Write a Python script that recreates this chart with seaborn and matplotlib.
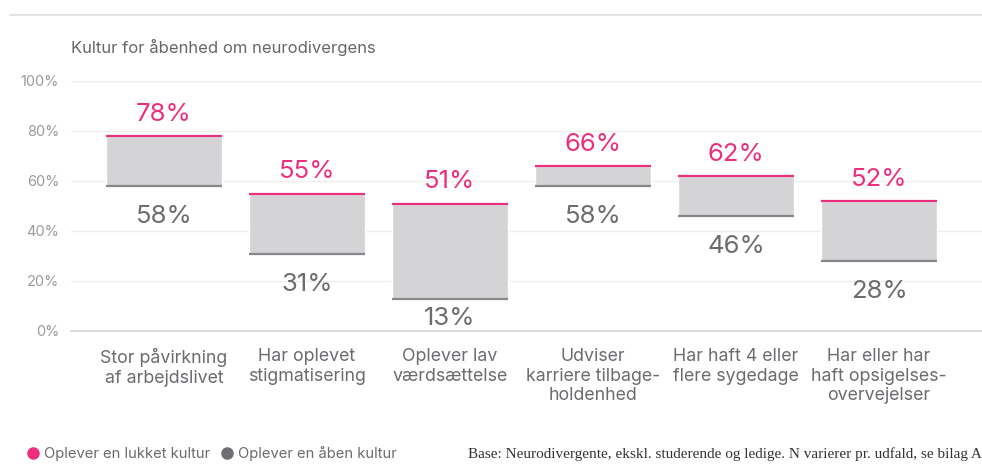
import matplotlib
matplotlib.use("Agg")
import matplotlib.pyplot as plt
from matplotlib.lines import Line2D
import seaborn as sns
import pandas as pd

# data
categories = ["Stor påvirkning\naf arbejdslivet", "Har oplevet\nstigmatisering",
              "Oplever lav\nværdsættelse", "Udviser\nkarriere tilbage-\nholdenhed",
              "Har haft 4 eller\nflere sygedage", "Har eller har\nhaft opsigelses-\novervejelser"]
closed_culture = [78, 55, 51, 66, 62, 52]
open_culture = [58, 31, 13, 58, 46, 28]
y_ticks = [0, 20, 40, 60, 80, 100]

title = "Kultur for åbenhed om neurodivergens"
legend_labels = ["Oplever en lukket kultur", "Oplever en åben kultur"]
footnote = "Base: Neurodivergente, ekskl. studerende og ledige. N varierer pr. udfald, se bilag A"

PINK = "#ec2f7d"
DARK = "#86868b"
FILL = "#d4d4d6"
TEXT = "#6b6b70"

sns.set_theme(style="white")
plt.rcParams["font.family"] = ["Inter", "DejaVu Sans"]

df = pd.DataFrame({"cat": categories,
                   "span": [c - o for c, o in zip(closed_culture, open_culture)],
                   "bottom": open_culture})

fig = plt.figure(figsize=(9.82, 4.74), dpi=100)
ax = fig.add_axes([71 / 982, 1 - 331 / 474, 1 - 71 / 982, (331 - 81) / 474])

sns.barplot(data=df, x="cat", y="span", bottom=df["bottom"].values, color=FILL,
            width=0.81, saturation=1, ax=ax, zorder=2)

w = 0.81 / 2
for i, (c, o) in enumerate(zip(closed_culture, open_culture)):
    ax.hlines(c, i - w, i + w, color=PINK, lw=1.6, zorder=3)
    ax.hlines(o, i - w, i + w, color=DARK, lw=1.6, zorder=3)
    ax.annotate(f"{c}%", (i, c), xytext=(0, 11), textcoords="offset points",
                ha="center", va="baseline", fontsize=18.5, color=PINK)
    # labels near the baseline are squeezed up so they stay above the axis
    dy = -14 if o > 20 else -6
    ax.annotate(f"{o}%", (i, o), xytext=(0, dy), textcoords="offset points",
                ha="center", va="top", fontsize=18.5, color=TEXT)

ax.set_ylim(0, 100)
ax.set_xlim(-0.65, 5.72)
ax.set_yticks(y_ticks)
ax.set_yticklabels([f"{t}%" for t in y_ticks], fontsize=10.5, color="#9a9a9e")
ax.tick_params(axis="y", length=0, pad=8.5)
ax.tick_params(axis="x", length=0, pad=12)
ax.set_xticks(range(len(categories)))
ax.set_xticklabels(categories, fontsize=12.8, color=TEXT, linespacing=1.22, va="top")
ax.set_xlabel("")
ax.set_ylabel("")
ax.grid(axis="y", color="#efeeea", lw=1, zorder=0)
for s in ["top", "right", "left"]:
    ax.spines[s].set_visible(False)
ax.spines["bottom"].set_color("#d8d8d8")
ax.spines["bottom"].set_linewidth(1.2)

fig.text(71 / 982, 1 - 47 / 474, title, fontsize=12, color="#66666b", va="center", ha="left")
fig.add_artist(Line2D([10 / 982, 1], [1 - 15 / 474, 1 - 15 / 474], color="#dddddd", lw=1.2))

# legend row
ly = 1 - 453 / 474
lbase = 1 - 458 / 474
for (mx, tx), lab, col in zip([(33, 44), (227, 238)], legend_labels, [PINK, "#6e6e73"]):
    fig.add_artist(Line2D([mx / 982], [ly], marker="o", ls="", color=col, markersize=8))
    fig.text(tx / 982, lbase, lab, fontsize=10.6, color="#6b6b70", ha="left", va="baseline")
fig.text(1.0, lbase, footnote, fontsize=11, family=["Liberation Serif"],
         color="#333333", ha="right", va="baseline")

fig.savefig("out.png", dpi=100)
